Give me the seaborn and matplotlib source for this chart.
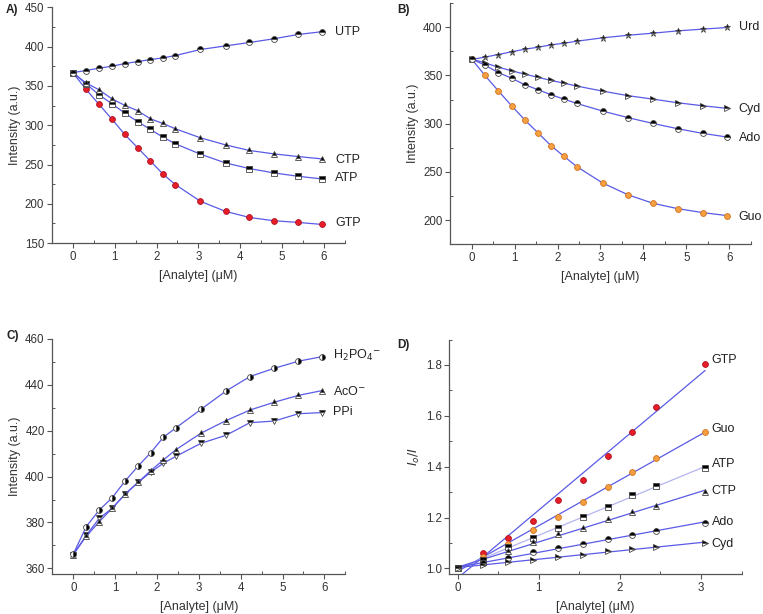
import numpy as np
import pandas as pd
import seaborn as sns
import matplotlib.pyplot as plt
from matplotlib.ticker import MultipleLocator

sns.set_theme(style="ticks")
plt.rcParams['font.family'] = ['Liberation Sans', 'DejaVu Sans']

# concentrations (uM)
conc = [0, 0.31, 0.62, 0.93, 1.24, 1.55, 1.85, 2.15, 2.45, 3.05, 3.65, 4.22, 4.8, 5.38, 5.95]
conc_d = conc[:10]

# A) nucleotides
utp = [367, 369.6, 372.6, 375, 378.5, 381, 383.6, 385.7, 388.7, 396.4, 401, 405.3, 410, 415.5, 419]
ctp = [367, 354, 345.3, 333.8, 325.3, 318.5, 308.3, 302.3, 295.5, 284, 275, 267.9, 263.6, 260.2, 257.2]
atp = [367, 353, 339, 327.5, 315.5, 304.5, 294.7, 285, 276.4, 263.2, 252, 244.9, 239.4, 235.1, 231.7]
gtp = [367, 346, 327, 308, 288.3, 271.3, 254.7, 238.1, 224.5, 203.2, 190.4, 182.7, 178.5, 176.4, 173.8]

# B) nucleosides
urd = [366.6, 369, 371.7, 374.5, 377.2, 379.3, 381.7, 383.4, 385.5, 389, 391.7, 393.8, 396.2, 398, 399.7]
cyd = [367, 363, 358.6, 354.8, 351.4, 348, 344.8, 342, 339, 333.8, 329, 325.5, 321.7, 318.6, 315.9]
ado = [367, 360.7, 353, 347.2, 340.3, 335.2, 330, 325.5, 321, 313.1, 306.2, 300.3, 294.8, 290, 286.2]
guo = [367, 350, 334.1, 318.6, 303.8, 290.3, 277.2, 266.2, 255.5, 238.6, 226.2, 217.6, 212, 207.9, 204.8]

# C) anions
h2po4 = [366.2, 378.2, 385.4, 390.8, 398.1, 404.6, 410.4, 417.1, 421.2, 429.3, 437.3, 443.6, 447.2, 450.3, 452.3]
aco = [366, 374, 380.3, 386.2, 392.4, 397.5, 402.6, 407.2, 411.7, 418.9, 424.4, 429, 432.4, 435.4, 437.5]
ppi = [366, 374.4, 381.8, 386.2, 392.3, 397.5, 401.9, 405.8, 408.8, 414.5, 418, 423.5, 424.2, 427.4, 427.9]

# D) Stern-Volmer I0/I
sv_gtp = [1.0, 1.059, 1.121, 1.188, 1.27, 1.349, 1.441, 1.538, 1.634, 1.805]
sv_guo = [1.0, 1.046, 1.095, 1.15, 1.204, 1.261, 1.319, 1.379, 1.436, 1.537]
sv_atp = [1.0, 1.034, 1.084, 1.121, 1.159, 1.204, 1.243, 1.287, 1.325, 1.396]
sv_ctp = [1.0, 1.025, 1.07, 1.106, 1.134, 1.159, 1.195, 1.221, 1.247, 1.299]
sv_ado = [1.0, 1.02, 1.043, 1.064, 1.08, 1.098, 1.115, 1.132, 1.149, 1.178]
sv_cyd = [1.0, 1.014, 1.025, 1.035, 1.046, 1.055, 1.067, 1.076, 1.085, 1.099]

LINE = '#5a5ae6'
RED = '#e61e2a'
ORANGE = '#f5a040'

half = dict(markerfacecolor='black', markerfacecoloralt='white', markeredgecolor='#444',
            markeredgewidth=0.6, fillstyle='top')
red = dict(markerfacecolor=RED, markeredgecolor='#b01020', markeredgewidth=0.6)
orange = dict(markerfacecolor=ORANGE, markeredgecolor='#d07020', markeredgewidth=0.6)


def series(ax, x, y, marker, style, ms=4.2, line=True, lcolor=LINE):
    d = pd.DataFrame({'x': x, 'y': y})
    if marker == 's':
        ms = ms - 0.5
    if marker == '*':
        ms = ms + 0.8
    sns.lineplot(data=d, x='x', y='y', ax=ax, marker=marker, markersize=ms,
                 color=lcolor, linewidth=0.9 if line else 0,
                 linestyle='-' if line else 'none', **style)


def style_ax(ax, xlim, ylim, xmaj, xmin, ymaj, ymin, ylabel, letter, lx, ly):
    ax.set_xlim(*xlim)
    ax.set_ylim(*ylim)
    ax.xaxis.set_major_locator(MultipleLocator(xmaj))
    ax.xaxis.set_minor_locator(MultipleLocator(xmin))
    ax.yaxis.set_major_locator(MultipleLocator(ymaj))
    ax.yaxis.set_minor_locator(MultipleLocator(ymin))
    sns.despine(ax=ax)
    for s in ('left', 'bottom'):
        ax.spines[s].set_color('#555')
        ax.spines[s].set_linewidth(0.9)
    ax.tick_params(which='major', direction='out', length=3.5, width=0.8, color='#555',
                   labelsize=8.3, labelcolor='#333', pad=2)
    ax.tick_params(which='minor', direction='in', length=2, width=0.7, color='#555')
    ax.set_xlabel('[Analyte] (\u03bcM)', fontsize=9, color='#333', labelpad=5)
    ax.set_ylabel(ylabel, fontsize=9, color='#333', labelpad=3)
    ax.figure.text(lx, ly, letter, fontsize=8.5, fontweight='bold', color='#222',
                   ha='left', va='center')


def label(ax, x, y, txt):
    ax.text(x, y, txt, fontsize=9, color='#222', ha='left', va='center')


fig = plt.figure(figsize=(7.63, 6.14), dpi=100)
axA = fig.add_axes([0.068, 0.604, 0.384, 0.384])
axB = fig.add_axes([0.590, 0.602, 0.394, 0.393])
axC = fig.add_axes([0.0686, 0.065, 0.384, 0.383])
axD = fig.add_axes([0.589, 0.065, 0.383, 0.382])

# A
series(axA, conc, gtp, 'o', red)
series(axA, conc, atp, 's', half)
series(axA, conc, ctp, '^', half)
series(axA, conc, utp, 'o', half)
style_ax(axA, (-0.5, 6.5), (150, 450), 1, 0.5, 50, 25, 'Intensity (a.u.)', 'A)', 0.008, 0.983)
label(axA, 6.27, 419, 'UTP')
label(axA, 6.27, 255.5, 'CTP')
label(axA, 6.27, 232.6, 'ATP')
label(axA, 6.27, 175.4, 'GTP')

# B
series(axB, conc, guo, 'o', orange)
series(axB, conc, cyd, '>', half)
series(axB, conc, urd, '*', half)
series(axB, conc, ado, 'o', half)
style_ax(axB, (-0.5, 6.5), (175, 425), 1, 0.5, 50, 25, 'Intensity (a.u.)', 'B)', 0.52, 0.983)
label(axB, 6.22, 400, 'Urd')
label(axB, 6.22, 315, 'Cyd')
label(axB, 6.22, 285, 'Ado')
label(axB, 6.22, 203, 'Guo')

# C
right_half = dict(half, fillstyle='right')
series(axC, conc, ppi, 'v', half)
series(axC, conc, aco, '^', half)
series(axC, conc, h2po4, 'o', right_half)
style_ax(axC, (-0.5, 6.5), (357.5, 460), 1, 0.5, 20, 10, 'Intensity (a.u.)', 'C)', 0.008, 0.452)
label(axC, 6.2, 452.6, 'H$_2$PO$_4$$^{-}$')
label(axC, 6.2, 437.3, 'AcO$^{-}$')
label(axC, 6.2, 428.2, 'PPi')

# D: linear fits + points
d_sets = [(sv_gtp, 'o', red, LINE), (sv_guo, 'o', orange, LINE), (sv_atp, 's', half, '#b4b4f2'),
          (sv_ctp, '^', half, LINE), (sv_ado, 'o', half, LINE), (sv_cyd, '>', half, LINE)]
for y, m, st, lc in d_sets:
    sns.regplot(x=np.array(conc_d), y=np.array(y), ax=axD, scatter=False, ci=None,
                line_kws=dict(color=lc, linewidth=0.9))
for y, m, st, lc in d_sets:
    series(axD, conc_d, y, m, st, line=False)
style_ax(axD, (-0.1, 3.5), (0.978, 1.9), 1, 0.5, 0.2, 0.1, '$I_o/I$', 'D)', 0.52, 0.438)
label(axD, 3.13, 1.82, 'GTP')
label(axD, 3.13, 1.55, 'Guo')
label(axD, 3.13, 1.41, 'ATP')
label(axD, 3.13, 1.304, 'CTP')
label(axD, 3.13, 1.183, 'Ado')
label(axD, 3.13, 1.097, 'Cyd')

fig.savefig('out.png', dpi=100)
